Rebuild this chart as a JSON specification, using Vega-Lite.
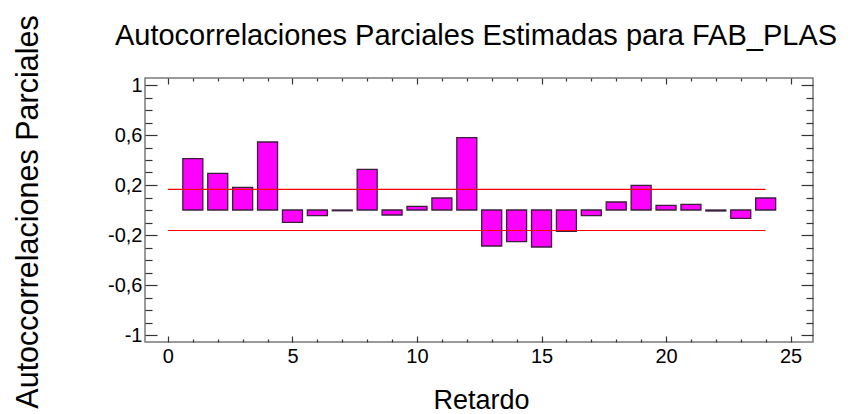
{
  "$schema": "https://vega.github.io/schema/vega-lite/v6.json",
  "width": 668,
  "height": 264,
  "autosize": "none",
  "padding": {"left": 145, "top": 78, "right": 38, "bottom": 72},
  "background": "white",
  "config": {
    "view": {"stroke": "#7a7a7a", "strokeWidth": 1.5},
    "font": "Liberation Sans"
  },
  "datasets": {
    "pacf": [
      {"lag": 1, "pacf": 0.411},
      {"lag": 2, "pacf": 0.293},
      {"lag": 3, "pacf": 0.181},
      {"lag": 4, "pacf": 0.544},
      {"lag": 5, "pacf": -0.099},
      {"lag": 6, "pacf": -0.045},
      {"lag": 7, "pacf": -0.006},
      {"lag": 8, "pacf": 0.325},
      {"lag": 9, "pacf": -0.04},
      {"lag": 10, "pacf": 0.029},
      {"lag": 11, "pacf": 0.096},
      {"lag": 12, "pacf": 0.579},
      {"lag": 13, "pacf": -0.288},
      {"lag": 14, "pacf": -0.253},
      {"lag": 15, "pacf": -0.296},
      {"lag": 16, "pacf": -0.171},
      {"lag": 17, "pacf": -0.045},
      {"lag": 18, "pacf": 0.064},
      {"lag": 19, "pacf": 0.197},
      {"lag": 20, "pacf": 0.037},
      {"lag": 21, "pacf": 0.045},
      {"lag": 22, "pacf": -0.008},
      {"lag": 23, "pacf": -0.067},
      {"lag": 24, "pacf": 0.096}
    ],
    "limits": [
      {"start": 0, "end": 24, "limit": -0.164},
      {"start": 0, "end": 24, "limit": 0.165}
    ]
  },
  "layer": [
    {
      "data": {"name": "pacf"},
      "mark": {"type": "bar", "width": 20, "fill": "#ff00ff", "stroke": "#3b1f3b", "strokeWidth": 1.3},
      "encoding": {
        "x": {
          "field": "lag",
          "type": "quantitative",
          "scale": {"domain": [-0.72, 25.7], "nice": false, "zero": false},
          "axis": {
            "orient": "bottom",
            "values": [0,1,2,3,4,5,6,7,8,9,10,11,12,13,14,15,16,17,18,19,20,21,22,23,24,25],
            "domain": false,
            "grid": false,
            "tickColor": "#333333",
            "tickWidth": 1.2,
            "tickSize": {"condition": {"test": "datum.value % 5 == 0", "value": -6}, "value": -3},
            "labelExpr": "datum.value % 5 == 0 ? datum.label : ''",
            "labelFontSize": 20,
            "labelColor": "black",
            "labelPadding": 10,
            "labelOverlap": false,
            "labelFlush": false,
            "labelBound": false,
            "title": "Retardo",
            "titleFontSize": 27,
            "titleFontWeight": "normal",
            "titleColor": "black",
            "titleX": 336,
            "titleY": 66,
            "titleBaseline": "alphabetic",
            "titleAlign": "center"
          }
        },
        "y": {
          "field": "pacf",
          "type": "quantitative",
          "scale": {"domain": [-1.056, 1.056], "nice": false, "zero": false},
          "axis": {
            "orient": "left",
            "values": [-1,-0.9,-0.8,-0.7,-0.6,-0.5,-0.4,-0.3,-0.2,-0.1,0,0.1,0.2,0.3,0.4,0.5,0.6,0.7,0.8,0.9,1],
            "domain": false,
            "grid": false,
            "tickColor": "#333333",
            "tickWidth": 1.2,
            "tickSize": {"condition": {"test": "indexof([-10,-6,-2,2,6,10], round(datum.value*10)) >= 0", "value": -12}, "value": -7},
            "labelExpr": "indexof([-10,-6,-2,2,6,10], round(datum.value*10)) >= 0 ? replace(replace(format(datum.value, '.1~f'), '.', ','), '\u2212', '-') : ''",
            "labelFontSize": 20,
            "labelColor": "black",
            "labelPadding": 15,
            "labelOverlap": false,
            "labelFlush": false,
            "labelBound": false,
            "title": "Autoccorrelaciones Parciales",
            "titleFontSize": 30.5,
            "titleFontWeight": "normal",
            "titleColor": "black",
            "titleAngle": 270,
            "titleX": -108,
            "titleY": 133.5,
            "titleBaseline": "alphabetic",
            "titleAlign": "center"
          }
        }
      }
    },
    {
      "data": {"name": "limits"},
      "mark": {"type": "rule", "strokeWidth": 1.2, "opacity": 1},
      "encoding": {
        "x": {
          "field": "start",
          "type": "quantitative",
          "axis": {
            "orient": "top",
            "values": [0,1,2,3,4,5,6,7,8,9,10,11,12,13,14,15,16,17,18,19,20,21,22,23,24,25],
            "domain": false,
            "grid": false,
            "labels": false,
            "tickColor": "#333333",
            "tickWidth": 1.2,
            "tickSize": {"condition": {"test": "datum.value % 5 == 0", "value": -6}, "value": -3},
            "title": "Autocorrelaciones Parciales Estimadas para FAB_PLAS",
            "titleFontSize": 29,
            "titleFontWeight": "normal",
            "titleColor": "black",
            "titleX": 330.5,
            "titleY": -34,
            "titleBaseline": "alphabetic",
            "titleAlign": "center"
          }
        },
        "x2": {"field": "end"},
        "y": {
          "field": "limit",
          "type": "quantitative",
          "axis": {
            "orient": "right",
            "values": [-1,-0.9,-0.8,-0.7,-0.6,-0.5,-0.4,-0.3,-0.2,-0.1,0,0.1,0.2,0.3,0.4,0.5,0.6,0.7,0.8,0.9,1],
            "domain": false,
            "grid": false,
            "labels": false,
            "tickColor": "#333333",
            "tickWidth": 1.2,
            "tickSize": {"condition": {"test": "indexof([-10,-6,-2,2,6,10], round(datum.value*10)) >= 0", "value": -12}, "value": -7},
            "title": null
          }
        },
        "stroke": {"value": "#ff0000"}
      }
    }
  ],
  "resolve": {"axis": {"x": "independent", "y": "independent"}}
}
